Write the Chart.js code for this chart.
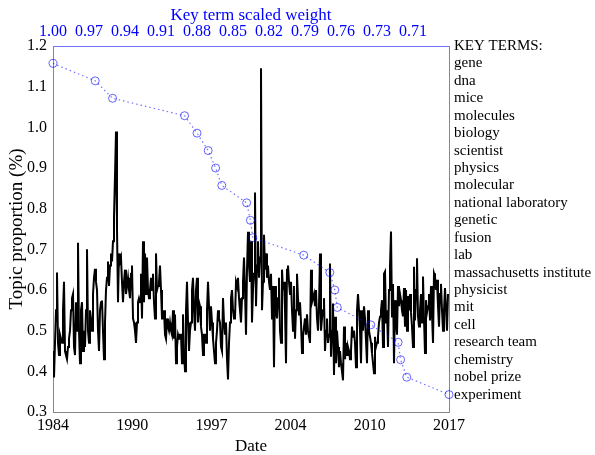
<!DOCTYPE html>
<html>
<head>
<meta charset="utf-8">
<script src="https://cdn.jsdelivr.net/npm/chart.js@4.4.0/dist/chart.umd.min.js"></script>
<style>
  body { margin: 0; background: #fff; }
  canvas { display: block; }
</style>
</head>
<body>
<canvas id="topicChart" width="595" height="455"></canvas>
<script>
// monthly topic proportion, Jan 1984 .. Dec 2016 (one row per year)
var startYear = 1984;
var topicShare = [
  0.45, 0.385, 0.47, 0.55, 0.643, 0.47, 0.44, 0.49, 0.48, 0.47, 0.55, 0.62,
  0.45, 0.44, 0.43, 0.46, 0.48, 0.50, 0.55, 0.58, 0.59, 0.46, 0.44, 0.57,
  0.50, 0.716, 0.50, 0.42, 0.55, 0.57, 0.45, 0.50, 0.46, 0.55, 0.70, 0.50,
  0.47, 0.55, 0.53, 0.50, 0.59, 0.63, 0.652, 0.62, 0.60, 0.50, 0.45, 0.55,
  0.57, 0.574, 0.50, 0.43, 0.52, 0.60, 0.63, 0.67, 0.61, 0.66, 0.69, 0.67,
  0.72, 0.78, 0.88, 0.99, 0.75, 0.57, 0.69, 0.67, 0.68, 0.62, 0.57, 0.62,
  0.65, 0.59, 0.61, 0.63, 0.60, 0.58, 0.64, 0.66, 0.53, 0.52, 0.50, 0.47,
  0.52, 0.57, 0.58, 0.57, 0.64, 0.53, 0.72, 0.57, 0.69, 0.59, 0.68, 0.60,
  0.58, 0.60, 0.63, 0.60, 0.64, 0.57, 0.53, 0.69, 0.60, 0.61, 0.62, 0.66,
  0.60, 0.53, 0.53, 0.55, 0.49, 0.48, 0.53, 0.51, 0.50, 0.52, 0.50, 0.49,
  0.55, 0.48, 0.54, 0.42, 0.46, 0.49, 0.48, 0.49, 0.49, 0.42, 0.54, 0.45,
  0.40, 0.55, 0.62, 0.52, 0.45, 0.50, 0.52, 0.60, 0.63, 0.55, 0.50, 0.60,
  0.63, 0.52, 0.57, 0.56, 0.51, 0.49, 0.44, 0.49, 0.49, 0.47, 0.55, 0.62,
  0.56, 0.50, 0.56, 0.52, 0.48, 0.45, 0.42, 0.47, 0.50, 0.55, 0.53, 0.52,
  0.46, 0.45, 0.58, 0.52, 0.49, 0.52, 0.43, 0.38, 0.47, 0.52, 0.58, 0.60,
  0.55, 0.53, 0.53, 0.62, 0.61, 0.63, 0.58, 0.55, 0.52, 0.58, 0.62, 0.68,
  0.60, 0.49, 0.65, 0.743, 0.66, 0.62, 0.72, 0.52, 0.60, 0.64, 0.84, 0.56,
  0.66, 0.72, 0.63, 0.68, 1.145, 0.55, 0.62, 0.736, 0.65, 0.69, 0.63, 0.66,
  0.62, 0.60, 0.64, 0.53, 0.61, 0.41, 0.61, 0.55, 0.53, 0.58, 0.63, 0.50,
  0.47, 0.65, 0.60, 0.62, 0.55, 0.42, 0.65, 0.66, 0.62, 0.59, 0.62, 0.55,
  0.50, 0.61, 0.48, 0.55, 0.64, 0.58, 0.54, 0.57, 0.52, 0.445, 0.485, 0.51,
  0.53, 0.49, 0.54, 0.50, 0.485, 0.47, 0.65, 0.57, 0.58, 0.59, 0.56, 0.60,
  0.53, 0.50, 0.56, 0.69, 0.50, 0.53, 0.55, 0.58, 0.45, 0.50, 0.53, 0.47,
  0.49, 0.665, 0.436, 0.50, 0.567, 0.391, 0.534, 0.42, 0.50, 0.46, 0.41, 0.45,
  0.42, 0.40, 0.378, 0.51, 0.43, 0.47, 0.44, 0.46, 0.45, 0.43, 0.45, 0.51,
  0.485, 0.50, 0.47, 0.41, 0.55, 0.59, 0.55, 0.50, 0.42, 0.55, 0.50, 0.56,
  0.53, 0.53, 0.42, 0.55, 0.50, 0.485, 0.47, 0.445, 0.42, 0.395, 0.485, 0.46,
  0.47, 0.485, 0.52, 0.534, 0.55, 0.575, 0.46, 0.64, 0.645, 0.52, 0.55, 0.46,
  0.60, 0.66, 0.744, 0.535, 0.615, 0.42, 0.575, 0.52, 0.49, 0.61, 0.56, 0.59,
  0.575, 0.55, 0.535, 0.605, 0.51, 0.60, 0.50, 0.585, 0.55, 0.59, 0.545, 0.51,
  0.46, 0.657, 0.525, 0.60, 0.678, 0.535, 0.51, 0.55, 0.59, 0.52, 0.633, 0.53,
  0.445, 0.575, 0.545, 0.56, 0.59, 0.525, 0.61, 0.54, 0.47, 0.641, 0.633, 0.60,
  0.625, 0.56, 0.51, 0.59, 0.615, 0.55, 0.50, 0.55, 0.605, 0.55, 0.50, 0.59
];

var terms = ['gene', 'dna', 'mice', 'molecules', 'biology', 'scientist', 'physics',
  'molecular', 'national laboratory', 'genetic', 'fusion', 'lab',
  'massachusetts institute', 'physicist', 'mit', 'cell', 'research team',
  'chemistry', 'nobel prize', 'experiment'];
var termWeights = [1.000, 0.966, 0.952, 0.894, 0.884, 0.875, 0.869, 0.864, 0.844, 0.841,
  0.839, 0.798, 0.777, 0.773, 0.771, 0.744, 0.722, 0.720, 0.715, 0.681];
var termRows = ['KEY TERMS:'].concat(terms);

var dateTicks = [1984, 1990.6, 1997.2, 2003.8, 2010.4, 2017];
var dateLabels = ['1984', '1990', '1997', '2004', '2010', '2017'];
var weightTicks = [1.000, 0.971, 0.942, 0.913, 0.884, 0.855, 0.826, 0.797, 0.768, 0.739, 0.710];
var weightLabels = ['1.00', '0.97', '0.94', '0.91', '0.88', '0.85', '0.82', '0.79', '0.76', '0.73', '0.71'];
var yTicks = [0.3, 0.4, 0.5, 0.6, 0.7, 0.8, 0.9, 1.0, 1.1, 1.2];
var yLabels = ['0.3', '0.4', '0.5', '0.6', '0.7', '0.8', '0.9', '1.0', '1.1', '1.2'];

var serif = "'Liberation Serif', 'Times New Roman', serif";
var blue = 'rgba(0,0,255,0.55)';

var linePoints = topicShare.map(function(v, i) {
    return { x: startYear + i / 12, y: v };
});
var termPoints = termWeights.map(function(w, i) {
    return { x: w, y: i + 1 };
});

function setTicks(values) {
    return function(scale) {
        scale.ticks = values.map(function(v) { return { value: v }; });
    };
}

var whiteBg = {
    id: 'whiteBg',
    beforeDraw: function(chart) {
        var c = chart.ctx;
        c.save();
        c.fillStyle = '#fff';
        c.fillRect(0, 0, chart.width, chart.height);
        c.restore();
    }
};

new Chart(document.getElementById('topicChart').getContext('2d'), {
    type: 'line',
    data: {
        datasets: [{
            data: termPoints,
            xAxisID: 'xw',
            yAxisID: 'terms',
            borderColor: blue,
            borderWidth: 1.2,
            borderDash: [1.5, 3],
            pointRadius: 4,
            pointBorderWidth: 1,
            pointBorderColor: 'rgba(0,0,255,0.6)',
            pointBackgroundColor: 'rgba(0,0,0,0)',
            clip: false
        }, {
            data: linePoints,
            xAxisID: 'x',
            yAxisID: 'y',
            borderColor: '#000',
            borderWidth: 2,
            pointRadius: 0,
            tension: 0
        }]
    },
    options: {
        responsive: false,
        animation: false,
        layout: { padding: 0 },
        plugins: { legend: { display: false }, tooltip: { enabled: false } },
        scales: {
            x: {
                type: 'linear',
                position: 'bottom',
                min: 1984,
                max: 2017,
                afterBuildTicks: setTicks(dateTicks),
                afterFit: function(s) { s.height = 43; },
                grid: { display: false, drawTicks: false },
                border: { color: '#888', width: 1 },
                ticks: {
                    autoSkip: false, maxRotation: 0, padding: 4,
                    color: '#000', font: { family: serif, size: 16 },
                    callback: function(v, i) { return dateLabels[i]; }
                },
                title: {
                    display: true, text: 'Date', color: '#000',
                    font: { family: serif, size: 17 }, padding: { top: 0, bottom: -2 }
                }
            },
            xw: {
                type: 'linear',
                position: 'top',
                reverse: true,
                min: 0.681,
                max: 1.0,
                afterBuildTicks: setTicks(weightTicks),
                afterFit: function(s) { s.height = 46; },
                grid: { display: false, drawTicks: false },
                border: { color: blue, width: 1 },
                ticks: {
                    autoSkip: false, maxRotation: 0, padding: 5,
                    color: '#0000ff', font: { family: serif, size: 16 },
                    callback: function(v, i) { return weightLabels[i]; }
                },
                title: {
                    display: true, text: 'Key term scaled weight', color: '#0000ff',
                    font: { family: serif, size: 17 }, padding: { top: 5, bottom: 0 }
                }
            },
            y: {
                type: 'linear',
                position: 'left',
                min: 0.3,
                max: 1.2,
                afterBuildTicks: setTicks(yTicks),
                afterFit: function(s) { s.width = 53; },
                grid: { display: false, drawTicks: false },
                border: { color: '#888', width: 1 },
                ticks: {
                    autoSkip: false, padding: 6,
                    color: '#000', font: { family: serif, size: 16 },
                    callback: function(v, i) { return yLabels[i]; }
                },
                title: {
                    display: true, text: 'Topic proportion (%)', color: '#000',
                    font: { family: serif, size: 19 }, padding: { top: 6, bottom: 0 }
                }
            },
            terms: {
                type: 'linear',
                position: 'right',
                reverse: true,
                min: 0,
                max: 21,
                afterBuildTicks: setTicks(termRows.map(function(t, i) { return i; })),
                afterFit: function(s) { s.width = 146; },
                grid: { display: false, drawTicks: false },
                border: { color: '#888', width: 1 },
                ticks: {
                    autoSkip: false, padding: 5,
                    color: '#000', font: { family: serif, size: 15 },
                    callback: function(v) { return termRows[v]; }
                }
            }
        }
    },
    plugins: [whiteBg]
});
</script>
</body>
</html>
